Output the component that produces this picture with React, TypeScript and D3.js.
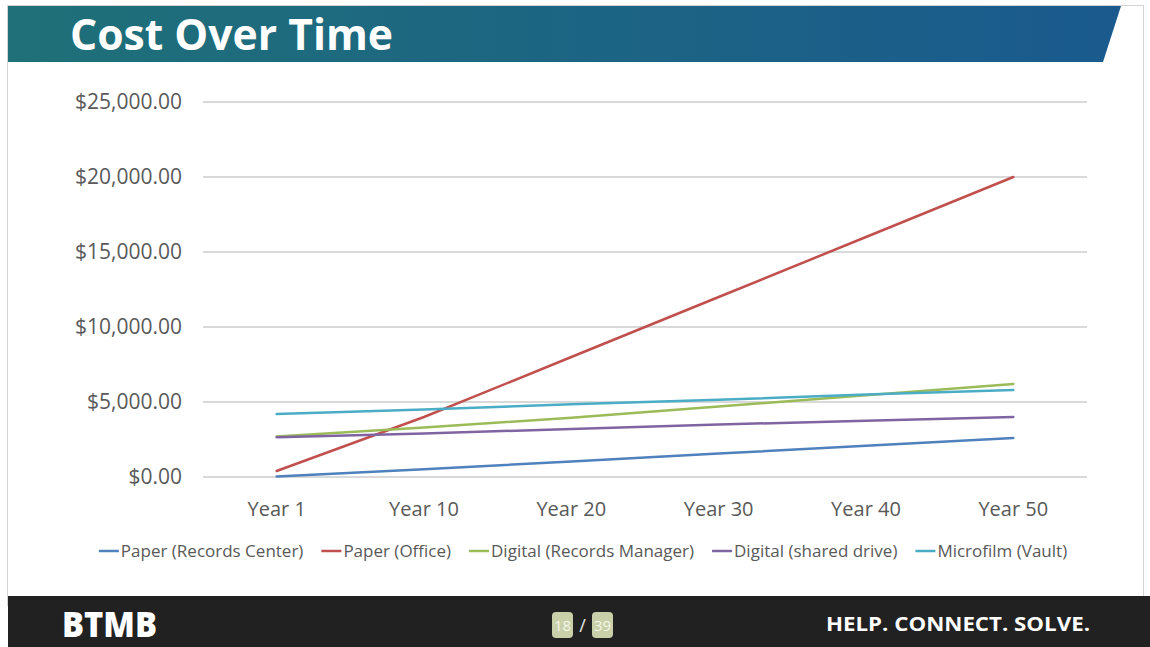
import React, { useEffect, useRef } from 'react';
import * as d3 from 'd3';

// chart data
const years = ['Year 1', 'Year 10', 'Year 20', 'Year 30', 'Year 40', 'Year 50'];
const paperRecordsCenter = [30, 520, 1040, 1560, 2080, 2600];
const paperOffice = [400, 4000, 8000, 12000, 16000, 20000];
const digitalRecordsManager = [2700, 3300, 3950, 4700, 5450, 6200];
const digitalSharedDrive = [2650, 2900, 3200, 3500, 3750, 4000];
const microfilmVault = [4200, 4500, 4850, 5150, 5500, 5800];
const yTicks = [0, 5000, 10000, 15000, 20000, 25000];

const seriesNames = [
  'Paper (Records Center)',
  'Paper (Office)',
  'Digital (Records Manager)',
  'Digital (shared drive)',
  'Microfilm (Vault)',
];
const seriesValues = [paperRecordsCenter, paperOffice, digitalRecordsManager, digitalSharedDrive, microfilmVault];
const colors = ['#4F81BD', '#C0504D', '#9BBB59', '#8064A2', '#4BACC6'];

const W = 1150;
const H = 647;
const FONT = "'Open Sans', 'DejaVu Sans', sans-serif";

export default function App() {
  const ref = useRef<SVGSVGElement>(null);

  useEffect(() => {
    document.body.style.margin = '0';
    const svg = d3.select(ref.current);
    svg.selectAll('*').remove();

    // slide background + border
    svg.append('rect').attr('width', W).attr('height', H).attr('fill', '#fff');
    svg.append('rect').attr('x', 7.5).attr('y', 5.5).attr('width', 1136).attr('height', 600)
      .attr('fill', 'none').attr('stroke', '#d4d4d4').attr('stroke-width', 1);

    // header banner
    const defs = svg.append('defs');
    const grad = defs.append('linearGradient').attr('id', 'hdr').attr('x1', '0%').attr('x2', '100%');
    grad.append('stop').attr('offset', '0%').attr('stop-color', '#1f7078');
    grad.append('stop').attr('offset', '100%').attr('stop-color', '#1a5a8e');
    svg.append('path')
      .attr('d', 'M8,6 L1121,6 L1103,62 L8,62 Z')
      .attr('fill', 'url(#hdr)');
    svg.append('text')
      .attr('x', 70).attr('y', 50)
      .attr('font-family', FONT).attr('font-weight', 700).attr('font-size', 43)
      .attr('fill', '#fff')
      .attr('textLength', 323).attr('lengthAdjust', 'spacingAndGlyphs')
      .text('Cost Over Time');

    // scales
    const x = d3.scalePoint<string>().domain(years).range([203, 1087]).padding(0.5);
    const y = d3.scaleLinear().domain([0, 25000]).range([477, 102]);

    // grid
    svg.append('g').selectAll('line').data(yTicks).join('line')
      .attr('x1', 203).attr('x2', 1087)
      .attr('y1', (d) => y(d)).attr('y2', (d) => y(d))
      .attr('stroke', '#d9d9d9').attr('stroke-width', 2);

    // y axis labels
    const fmt = d3.format('$,.2f');
    svg.append('g').selectAll('text').data(yTicks).join('text')
      .attr('x', 182).attr('y', (d) => y(d))
      .attr('dy', '0.35em')
      .attr('text-anchor', 'end')
      .attr('font-family', FONT).attr('font-size', 21).attr('fill', '#595959')
      .text((d) => fmt(d));

    // x axis labels
    svg.append('g').selectAll('text').data(years).join('text')
      .attr('x', (d) => x(d) as number).attr('y', 516)
      .attr('text-anchor', 'middle')
      .attr('font-family', FONT).attr('font-size', 20).attr('fill', '#595959')
      .text((d) => d);

    // lines
    const line = d3.line<number>()
      .x((_, i) => x(years[i]) as number)
      .y((d) => y(d));
    svg.append('g').selectAll('path').data(seriesValues).join('path')
      .attr('d', (d) => line(d))
      .attr('fill', 'none')
      .attr('stroke', (_, i) => colors[i])
      .attr('stroke-width', 2.5)
      .attr('stroke-linecap', 'round');

    // legend, measured and centred
    const lg = svg.append('g');
    const items = seriesNames.map((name, i) => {
      const g = lg.append('g');
      g.append('line').attr('x1', 0).attr('x2', 20).attr('y1', 0).attr('y2', 0)
        .attr('stroke', colors[i]).attr('stroke-width', 2.5);
      const t = g.append('text').attr('x', 22).attr('dy', '0.35em')
        .attr('font-family', FONT).attr('font-size', 17).attr('fill', '#595959')
        .text(name);
      const w = 22 + (t.node() as SVGTextElement).getComputedTextLength();
      return { g, w };
    });
    const gap = 18;
    const total = d3.sum(items, (d) => d.w) + gap * (items.length - 1);
    let cx = 583 - total / 2;
    items.forEach((it) => {
      it.g.attr('transform', `translate(${cx},551)`);
      cx += it.w + gap;
    });

    // footer
    svg.append('rect').attr('x', 8).attr('y', 596).attr('width', W - 8).attr('height', H - 596).attr('fill', '#212121');
    svg.append('text')
      .attr('x', 62).attr('y', 637)
      .attr('font-family', FONT).attr('font-weight', 800).attr('font-size', 36)
      .attr('fill', '#fff')
      .attr('textLength', 95).attr('lengthAdjust', 'spacingAndGlyphs')
      .text('BTMB');
    const pages = [{ t: '18', x: 552 }, { t: '39', x: 592 }];
    pages.forEach((p) => {
      svg.append('rect').attr('x', p.x).attr('y', 612).attr('width', 21).attr('height', 26).attr('rx', 4)
        .attr('fill', '#c9cfa9');
      svg.append('text').attr('x', p.x + 10.5).attr('y', 631).attr('text-anchor', 'middle')
        .attr('font-family', FONT).attr('font-size', 15).attr('fill', '#f4f6e6').text(p.t);
    });
    svg.append('text').attr('x', 582.5).attr('y', 632).attr('text-anchor', 'middle')
      .attr('font-family', FONT).attr('font-size', 18).attr('fill', '#e8e8e8').text('/');
    svg.append('text')
      .attr('x', 826).attr('y', 631)
      .attr('font-family', FONT).attr('font-weight', 700).attr('font-size', 19)
      .attr('fill', '#fff')
      .attr('textLength', 264).attr('lengthAdjust', 'spacingAndGlyphs')
      .text('HELP. CONNECT. SOLVE.');
  }, []);

  return <svg ref={ref} width={W} height={H} style={{ display: 'block' }} />;
}
